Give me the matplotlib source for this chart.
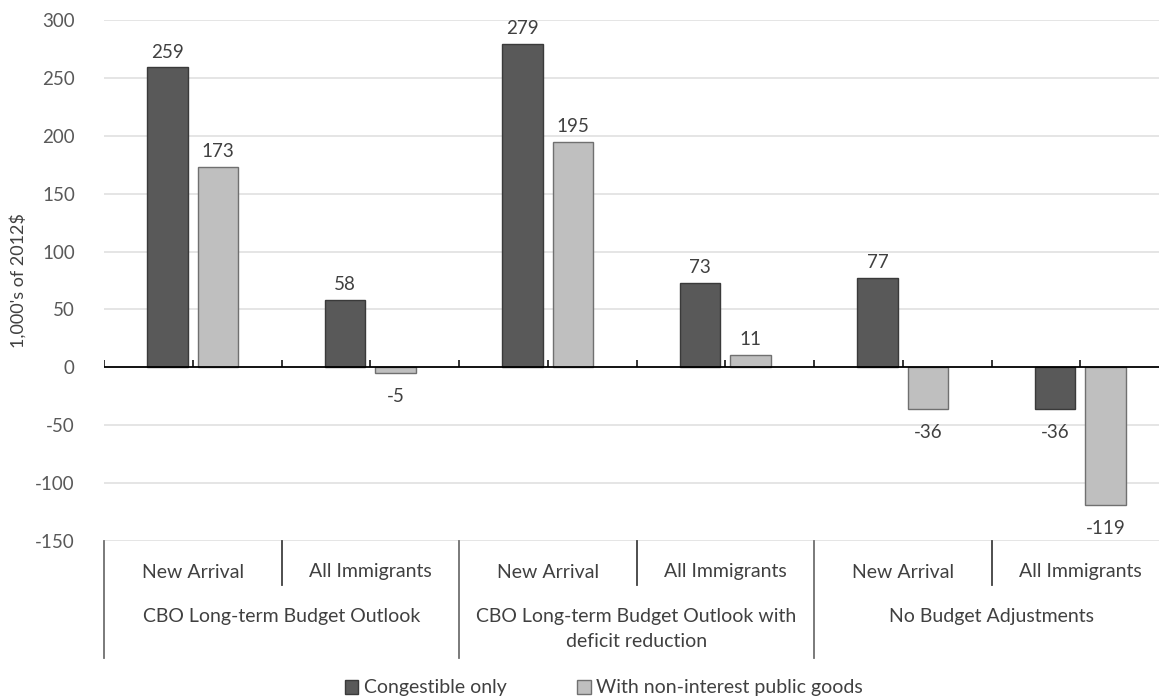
import matplotlib
matplotlib.use("Agg")
import matplotlib.pyplot as plt
from matplotlib.transforms import blended_transform_factory
from matplotlib.patches import Patch
from matplotlib.lines import Line2D

plt.rcParams['font.family'] = ['Lato', 'DejaVu Sans']

# Data (thousands of 2012 dollars)
groups = ["CBO Long-term Budget Outlook",
          "CBO Long-term Budget Outlook with\ndeficit reduction",
          "No Budget Adjustments"]
subcats = ["New Arrival", "All Immigrants"]
series_names = ["Congestible only", "With non-interest public goods"]
congestible = [259, 58, 279, 73, 77, -36]
public_goods = [173, -5, 195, 11, -36, -119]
yticks = [-150, -100, -50, 0, 50, 100, 150, 200, 250, 300]

W, H = 1159, 698
fig = plt.figure(figsize=(W / 100, H / 100), dpi=100)
ax = fig.add_axes([104 / W, 1 - 541 / H, (1169 - 104) / W, (541 - 20) / H])

text_col = "#404040"
dark, light = "#595959", "#bfbfbf"
n = len(congestible)
xs = [i + 0.5 for i in range(n)]
bw = 0.228
off = 0.142

b1 = ax.bar([x - off for x in xs], congestible, bw, color=dark,
            edgecolor="#3a3a3a", linewidth=1, zorder=3)
b2 = ax.bar([x + off for x in xs], public_goods, bw, color=light,
            edgecolor="#707070", linewidth=1, zorder=3)

for bars, vals in ((b1, congestible), (b2, public_goods)):
    for rect, v in zip(bars, vals):
        cx = rect.get_x() + rect.get_width() / 2
        if v >= 0:
            ax.annotate(str(v), (cx, v), xytext=(0, 5), textcoords="offset points",
                        ha="center", va="bottom", fontsize=13.5, color=text_col)
        else:
            ax.annotate(str(v), (cx, v), xytext=(0, -11), textcoords="offset points",
                        ha="center", va="top", fontsize=13.5, color=text_col)

ax.set_xlim(0, n)
ax.set_ylim(-150, 300)
ax.set_yticks(yticks)
ax.set_yticklabels([str(t) for t in yticks], fontsize=13.5, color="#595959")
ax.tick_params(axis="y", length=0, pad=21)
ax.set_xticks([])
for s in ax.spines.values():
    s.set_visible(False)
for t in yticks:
    if t != 0:
        ax.axhline(t, color="#e0e0e0", linewidth=1.2, zorder=0)
ax.axhline(0, color="black", linewidth=1.3, zorder=4)
ax.vlines([k * 0.5 for k in range(2 * n + 1)], 0, 6, color="black",
          linewidth=1.1, zorder=4)

ax.set_ylabel("1,000's of 2012$", fontsize=13, color=text_col)
ax.yaxis.set_label_coords(-0.073, 0.5)

# Two-level category axis below the plot
tr = blended_transform_factory(ax.transData, fig.transFigure)
def fy(ypix):
    return 1 - ypix / H

for i, x in enumerate(xs):
    ax.text(x, fy(572), subcats[i % 2], transform=tr, ha="center", va="center",
            fontsize=14, color=text_col)
for i in range(1, n, 2):
    fig.add_artist(Line2D([i, i], [fy(541), fy(585)], transform=tr,
                          color="#404040", linewidth=1.3))
for g in range(len(groups) + 1):
    fig.add_artist(Line2D([2 * g, 2 * g], [fy(541), fy(658)], transform=tr,
                          color="#707070", linewidth=1.3))
for g, name in enumerate(groups):
    ax.text(2 * g + 1, fy(608), name, transform=tr, ha="center", va="top",
            fontsize=14, color=text_col, linespacing=1.55)

handles = [Patch(facecolor=dark, edgecolor="#3a3a3a"),
           Patch(facecolor=light, edgecolor="#707070")]
fig.legend(handles, series_names, loc="center", ncol=2,
           bbox_to_anchor=(604 / W, fy(688)), frameon=False, fontsize=14,
           labelcolor=text_col, handlelength=0.7, handleheight=0.7,
           handletextpad=0.3, columnspacing=3.6)

fig.savefig("out.png", dpi=100)
